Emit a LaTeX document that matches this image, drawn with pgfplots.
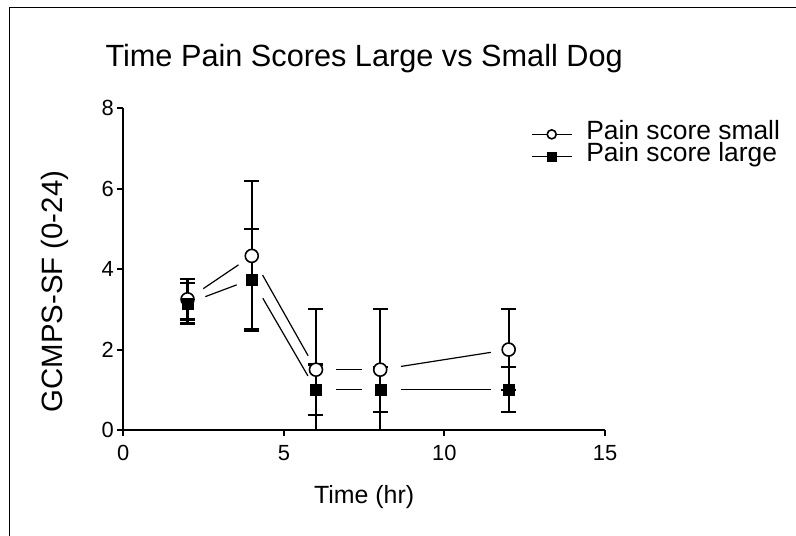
\documentclass[border=0pt]{standalone}
\usepackage{fontspec}
\setmainfont{Liberation Sans}
\usepackage{pgfplots}
\usepackage{pgfplotstable}
\pgfplotsset{compat=1.18}

% time (hr), mean score, error
\pgfplotstableread{
x   y     e
2   3.25  0.50
4   4.33  1.87
6   1.50  1.50
8   1.50  1.50
12  2.00  1.00
}\smalldata
\pgfplotstableread{
x   y     e
2   3.15  0.50
4   3.75  1.25
6   1.00  0.63
8   1.00  0.56
12  1.00  0.56
}\largedata

\begin{document}
\begin{tikzpicture}
\useasboundingbox (0,0) rectangle (796bp,536bp);
\draw[line width=1.5bp] (9.5bp,0) -- (9.5bp,528.5bp) -- (796bp,528.5bp);
\begin{axis}[
    at={(123.3bp,106bp)}, anchor=south west,
    scale only axis, width=481.7bp, height=321.7bp,
    xmin=0, xmax=15, ymin=0, ymax=8,
    xtick={0,5,10,15}, ytick={0,2,4,6,8},
    axis lines=left, axis line style={line width=2bp, -},
    tick align=outside, major tick length=6bp,
    tick style={line width=2bp, black},
    /pgf/number format/assume math mode=true,
    tick label style={font=\fontsize{22}{24}\selectfont},
    xticklabel style={yshift=-6bp},
    title={Time Pain Scores Large vs Small Dog},
    title style={font=\fontsize{30.8}{34}\selectfont, at={(0.5,1)}, anchor=center, yshift=44bp},
    xlabel={Time (hr)},
    xlabel style={font=\fontsize{25}{28}\selectfont, at={(0.5,0)}, anchor=center, yshift=-67bp},
    ylabel={GCMPS-SF (0-24)},
    ylabel style={font=\fontsize{29.5}{30}\selectfont, at={(0,0.43)}, anchor=center, yshift=68bp},
    clip=false,
    legend style={at={(0.84,0.96)}, anchor=north west, draw=none, fill=none,
        font=\fontsize{26.5}{26.5}\selectfont, row sep=0pt, column sep=14bp,
        nodes={inner sep=0pt, text height=16.5bp, text depth=5.5bp}},
    legend cell align=left,
    legend image code/.code={
        \draw[solid, line width=1.2bp, black] (0bp,0bp) -- (40bp,0bp);
        \draw[mark size=4.5bp] plot coordinates {(20bp,0bp)};
    },
]
% connecting lines, drawn with gaps round the markers
\addplot[forget plot, line width=1.2bp, shorten <=19bp, shorten >=16bp] coordinates {(2,3.25) (4,4.33)};
\addplot[forget plot, line width=1.2bp, shorten <=22bp, shorten >=16bp] coordinates {(4,4.33) (6,1.5)};
\addplot[forget plot, line width=1.2bp, shorten <=20bp, shorten >=18bp] coordinates {(6,1.5) (8,1.5)};
\addplot[forget plot, line width=1.2bp, shorten <=21bp, shorten >=18bp] coordinates {(8,1.5) (12,2.0)};
\addplot[forget plot, line width=1.2bp, shorten <=19bp, shorten >=16bp] coordinates {(2,3.15) (4,3.75)};
\addplot[forget plot, line width=1.2bp, shorten <=22bp, shorten >=16bp] coordinates {(4,3.75) (6,1.0)};
\addplot[forget plot, line width=1.2bp, shorten <=20bp, shorten >=18bp] coordinates {(6,1.0) (8,1.0)};
\addplot[forget plot, line width=1.2bp, shorten <=21bp, shorten >=18bp] coordinates {(8,1.0) (12,1.0)};

\addplot[only marks, mark=*, mark size=6.5bp, mark options={fill=white, draw=black, line width=1.6bp},
    error bars/.cd, y dir=both, y explicit,
    error bar style={line width=2.2bp, black},
    error mark options={rotate=90, mark size=7.5bp, line width=2.2bp, black}]
    table[x=x, y=y, y error=e] {\smalldata};
\addlegendentry{Pain score small}
\addplot[only marks, mark=square*, mark size=5.5bp, mark options={fill=black, draw=black},
    error bars/.cd, y dir=both, y explicit,
    error bar style={line width=2.2bp, black},
    error mark options={rotate=90, mark size=7.5bp, line width=2.2bp, black}]
    table[x=x, y=y, y error=e] {\largedata};
\addlegendentry{Pain score large}
\end{axis}
\end{tikzpicture}
\end{document}
